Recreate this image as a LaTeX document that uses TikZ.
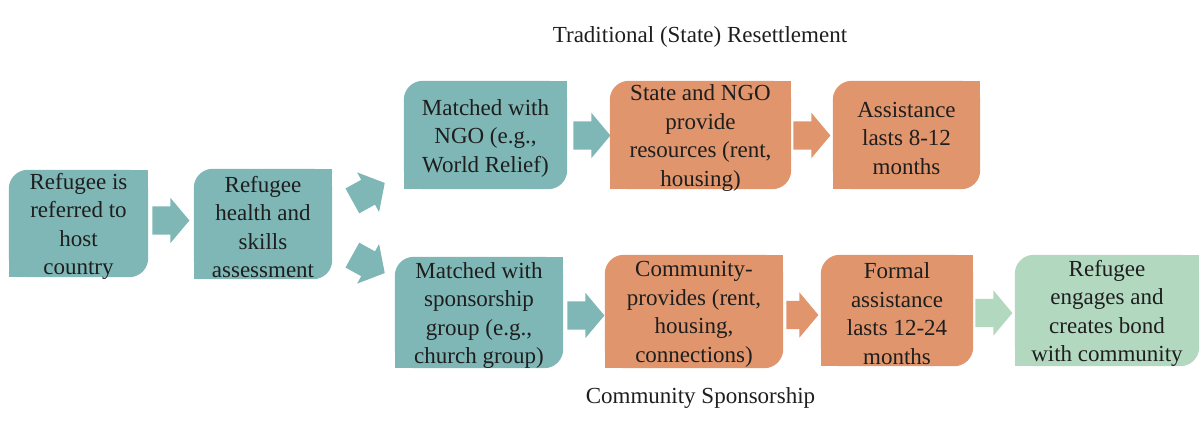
\documentclass[tikz,border=0pt]{standalone}
\usepackage{fontspec}
\setmainfont{Liberation Serif}
\usetikzlibrary{shapes.arrows,calc,backgrounds}
\definecolor{tealbox}{HTML}{7FB6B6}
\definecolor{orangebox}{HTML}{E0956C}
\definecolor{greenbox}{HTML}{B2D9C0}
\definecolor{inkdark}{HTML}{1E1E1E}
\begin{document}
\begin{tikzpicture}[x=1pt,y=-1pt,
  box/.style={inner sep=0pt, align=center, text=inkdark,
    font=\fontsize{23}{28.5}\selectfont},
  caption/.style={inner sep=0pt, text=inkdark, font=\fontsize{23}{28.5}\selectfont},
  flow/.style={single arrow, draw=none, fill=#1, inner xsep=0pt, inner ysep=14pt,
    anchor=tail, minimum height=37pt, single arrow head extend=8.5pt,
    single arrow tip angle=100}]
\useasboundingbox (0,0) rectangle (1204,444);

% step boxes (text sits slightly below the box centre)
\node[box, minimum width=139pt, minimum height=107pt] (b1) at (78.5,226.5)
  {Refugee is\\referred to\\host\\country};
\node[box, minimum width=138pt, minimum height=110pt] (b2) at (263,227)
  {Refugee\\health and\\skills\\assessment};
\node[box, minimum width=163pt, minimum height=108pt] (t1) at (485.5,138)
  {Matched with\\NGO (e.g.,\\World Relief)};
\node[box, minimum width=181pt, minimum height=108pt] (t2) at (700.5,138)
  {State and NGO\\provide\\resources (rent,\\housing)};
\node[box, minimum width=147pt, minimum height=108pt] (t3) at (906.5,138)
  {Assistance\\lasts 8-12\\months};
\node[box, minimum width=168pt, minimum height=111pt] (s1) at (479,315.5)
  {Matched with\\sponsorship\\group (e.g.,\\church group)};
\node[box, minimum width=178pt, minimum height=113pt] (s2) at (694,314.5)
  {Community-\\provides (rent,\\housing,\\connections)};
\node[box, minimum width=152pt, minimum height=111pt] (s3) at (897,313.5)
  {Formal\\assistance\\lasts 12-24\\months};
\node[box, minimum width=184pt, minimum height=111pt] (s4) at (1107,313.5)
  {Refugee\\engages and\\creates bond\\with community};

% box fills: rounded top-left and bottom-right corners only
\begin{scope}[on background layer]
  \foreach \n/\c in {b1/tealbox, b2/tealbox, t1/tealbox, t2/orangebox, t3/orangebox,
                     s1/tealbox, s2/orangebox, s3/orangebox, s4/greenbox} {
    \fill[\c, rounded corners=19pt] ([yshift=3pt]\n.north west) rectangle ([yshift=3pt]\n.south east);
    \fill[\c] ([yshift=3pt]\n.north) rectangle ([yshift=3pt]\n.east);
    \fill[\c] ([yshift=3pt]\n.west) rectangle ([yshift=3pt]\n.south);
  }
\end{scope}

% block arrows between steps
\node[flow=tealbox] (a1) at ($(b1.east)+(4,-6)$) {};
\node[flow=tealbox, rotate=29] (a2) at ($(b2.east)+(20,-26)$) {};
\node[flow=tealbox, rotate=-29] (a3) at ($(b2.east)+(20,28)$) {};
\node[flow=tealbox] (a4) at ($(t1.east)+(6,-2.5)$) {};
\node[flow=orangebox] (a5) at ($(t2.east)+(2,-2.5)$) {};
\node[flow=tealbox] (a6) at ($(s1.east)+(4,0)$) {};
\node[flow=orangebox, minimum height=32pt] (a7) at ($(s2.east)+(3,0.5)$) {};
\node[flow=greenbox] (a8) at ($(s3.east)+(2,-0.5)$) {};

% route captions
\node[caption] (cap1) at (700,37) {Traditional (State) Resettlement};
\node[caption] (cap2) at (700.5,398) {Community Sponsorship};
\end{tikzpicture}
\end{document}
